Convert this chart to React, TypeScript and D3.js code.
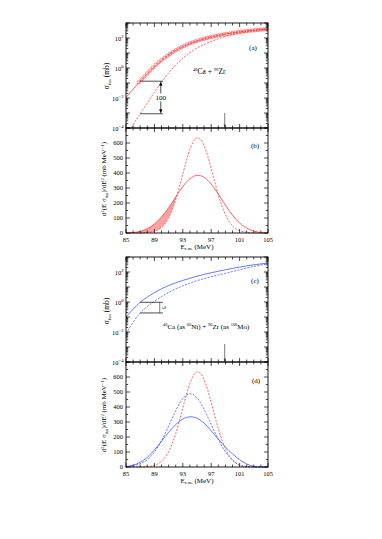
import React from 'react';
import * as d3 from 'd3';

// ---------- data ----------
const energyFine = [85, 85.5, 86, 86.5, 87, 87.5, 88, 88.5, 89, 89.5, 90, 90.5, 91, 91.5, 92, 92.5, 93, 93.5, 94, 94.5, 95, 95.5, 96, 96.5, 97, 97.5, 98, 98.5, 99, 99.5, 100, 100.5, 101, 101.5, 102, 102.5, 103, 103.5, 104, 104.5, 105];
const energyCoarse = [85, 86, 87, 88, 89, 90, 91, 92, 93, 94, 95, 96, 97, 98, 99, 100, 101, 102, 103, 104, 105];
const energyDashedA = [85.8, 86, 87, 88, 89, 90, 91, 92, 93, 94, 95, 96, 97, 98, 99, 100, 101, 102, 103, 104, 105];

// panel (a): log10 of sigma_fus (mb)
const logSigmaSolidA = [-1.96, -1.4, -0.88, -0.4, 0.08, 0.5, 0.87, 1.17, 1.42, 1.62, 1.8, 1.94, 2.06, 2.17, 2.26, 2.34, 2.41, 2.47, 2.52, 2.56, 2.6];
const logSigmaDashedA = [-4.0, -3.8, -3.05, -2.33, -1.62, -0.95, -0.33, 0.2, 0.65, 1.03, 1.33, 1.57, 1.77, 1.95, 2.1, 2.22, 2.32, 2.41, 2.48, 2.54, 2.58];
const expEnergyA = [86.8, 87.2, 87.6, 88.0, 88.4, 88.8, 89.2, 89.6, 90.0, 90.4, 90.8, 91.2, 91.6, 92.0, 92.4, 92.8, 93.2, 93.6, 94.0, 94.4, 94.8, 95.2, 95.6, 96.0, 96.4, 96.8, 97.2, 97.6, 98.0, 98.4, 98.8, 99.2, 99.6, 100.0, 100.4, 100.8, 101.2, 101.6, 102.0, 102.4, 102.8, 103.2, 103.6, 104.0, 104.4, 104.8];
const expLogSigmaA = [-0.95, -0.76, -0.56, -0.36, -0.16, 0.03, 0.22, 0.38, 0.53, 0.68, 0.81, 0.94, 1.06, 1.18, 1.28, 1.38, 1.47, 1.56, 1.64, 1.71, 1.78, 1.84, 1.9, 1.95, 2.0, 2.05, 2.09, 2.13, 2.17, 2.21, 2.24, 2.27, 2.3, 2.33, 2.36, 2.39, 2.42, 2.44, 2.46, 2.48, 2.5, 2.52, 2.54, 2.56, 2.57, 2.59];

// panel (c)
const logSigmaSolidC = [-1.0, -0.48, -0.02, 0.33, 0.63, 0.88, 1.1, 1.28, 1.44, 1.58, 1.72, 1.84, 1.95, 2.05, 2.15, 2.24, 2.33, 2.41, 2.48, 2.54, 2.6];
const logSigmaDashedC = [-2.1, -1.35, -0.73, -0.3, 0.05, 0.36, 0.64, 0.88, 1.08, 1.26, 1.42, 1.56, 1.69, 1.8, 1.91, 2.03, 2.15, 2.27, 2.37, 2.46, 2.54];

// panel (b): barrier distributions (mb/MeV)
const distSolidB = [0, 1, 3, 6, 11, 18, 28, 42, 60, 82, 107, 136, 168, 203, 240, 276, 309, 339, 362, 377, 385, 382, 371, 352, 326, 295, 260, 223, 186, 151, 119, 91, 67, 48, 33, 21, 13, 7, 3, 1, 0];
const distDashedB = [0, 0, 0, 0, 0, 1, 3, 6, 11, 21, 38, 64, 103, 156, 224, 306, 394, 481, 557, 611, 634, 624, 582, 514, 430, 341, 256, 182, 123, 78, 47, 27, 15, 8, 4, 2, 0, 0, 0, 0, 0];

// panel (d)
const distSolidD = [2, 6, 12, 20, 32, 46, 64, 88, 114, 142, 172, 202, 231, 258, 283, 303, 320, 330, 335, 333, 325, 311, 292, 268, 242, 214, 186, 159, 133, 109, 87, 67, 49, 33, 20, 10, 4, 1, 0, 0, 0];
const distDashedD = [3, 5, 8, 14, 22, 33, 49, 71, 99, 134, 175, 222, 273, 325, 375, 420, 455, 479, 488, 482, 461, 428, 385, 335, 283, 232, 184, 140, 102, 70, 45, 25, 11, 3, 0, 0, 0, 0, 0, 0, 0];

const xTickLabels = [85, 89, 93, 97, 101, 105];
const linTickLabels = [0, 100, 200, 300, 400, 500, 600];
const logTickExps = [-4, -2, 0, 2];

// ---------- layout ----------
const W = 382, H = 539;
const X0 = 126, X1 = 268;
const RED = '#ff3a3a';
const BLUE = '#3b57ff';
const FONT = '"Liberation Serif", "DejaVu Serif", Times, serif';

const x = d3.scaleLinear().domain([85, 105]).range([X0, X1]);
const yA = d3.scaleLog().domain([1e-4, 1e3]).range([128, 23]);
const yB = d3.scaleLinear().domain([0, 700]).range([233, 128]);
const yC = d3.scaleLog().domain([1e-4, 1e3]).range([362, 257]);
const yD = d3.scaleLinear().domain([0, 700]).range([467, 362]);

type P = { e: number; v: number };
const zip = (es: number[], vs: number[]): P[] => es.map((e, i) => ({ e, v: vs[i] }));

function pathLog(y: any, pts: P[]) {
  return d3.line<P>().x(p => x(p.e)).y(p => y(Math.pow(10, p.v))).curve(d3.curveMonotoneX)(pts) || '';
}
function pathLin(y: any, pts: P[]) {
  return d3.line<P>().x(p => x(p.e)).y(p => y(p.v)).curve(d3.curveMonotoneX)(pts) || '';
}

function frameAndTicks(key: string, y: any, top: number, bottom: number, isLog: boolean) {
  const els: any[] = [];
  els.push(<rect key={key + 'fr'} x={X0} y={top} width={X1 - X0} height={bottom - top} fill="none" stroke="#000" strokeWidth={0.9} />);
  x.ticks(20).forEach(e => {
    const major = (e - 85) % 4 === 0;
    const len = major ? 4 : 2.5;
    els.push(<line key={key + 'xb' + e} x1={x(e)} x2={x(e)} y1={bottom} y2={bottom - len} stroke="#000" strokeWidth={0.7} />);
    els.push(<line key={key + 'xt' + e} x1={x(e)} x2={x(e)} y1={top} y2={top + len} stroke="#000" strokeWidth={0.7} />);
  });
  const yt: number[] = isLog ? y.ticks() : y.ticks(14);
  yt.forEach((v: number) => {
    const major = isLog ? Math.abs(Math.log10(v) - Math.round(Math.log10(v))) < 1e-9 : v % 100 === 0;
    const len = major ? 4 : 2.2;
    const yy = y(v);
    els.push(<line key={key + 'yl' + v} x1={X0} x2={X0 + len} y1={yy} y2={yy} stroke="#000" strokeWidth={0.7} />);
    els.push(<line key={key + 'yr' + v} x1={X1} x2={X1 - len} y1={yy} y2={yy} stroke="#000" strokeWidth={0.7} />);
  });
  if (isLog) {
    logTickExps.forEach(ex => {
      els.push(
        <text key={key + 'lab' + ex} x={123.5} y={y(Math.pow(10, ex)) + 2.5} textAnchor="end" fontSize={6.5} fill="#000">
          10<tspan dy={-3} fontSize={4.6}>{ex < 0 ? '\u2212' + Math.abs(ex) : String(ex)}</tspan>
        </text>
      );
    });
  } else {
    linTickLabels.forEach(v => {
      els.push(<text key={key + 'lab' + v} x={123} y={y(v) + 2.2} textAnchor="end" fontSize={6.5} fill="#000">{v}</text>);
    });
  }
  return els;
}

function xLabels(key: string, bottom: number) {
  return [
    ...xTickLabels.map(e => (
      <text key={key + 'xl' + e} x={x(e)} y={bottom + 8.5} textAnchor="middle" fontSize={6.5} fill="#000">{e}</text>
    )),
    <text key={key + 'xtitle'} x={197} y={bottom + 15.5} textAnchor="middle" fontSize={7} fill="#000">
      E<tspan dy={1.5} fontSize={4.6}>c.m.</tspan><tspan dy={-1.5}> (MeV)</tspan>
    </text>,
  ];
}

function sigmaTitle(key: string, cx: number, cy: number) {
  return (
    <text key={key} transform={`translate(${cx},${cy}) rotate(-90)`} textAnchor="middle" fontSize={7.5} fill="#000">
      σ<tspan dy={1.6} fontSize={5}>fus</tspan><tspan dy={-1.6}> (mb)</tspan>
    </text>
  );
}

function distTitle(key: string, cx: number, cy: number) {
  return (
    <text key={key} transform={`translate(${cx},${cy}) rotate(-90)`} textAnchor="middle" fontSize={7} fill="#000">
      d<tspan dy={-2.5} fontSize={4.6}>2</tspan><tspan dy={2.5}>(E σ</tspan><tspan dy={1.5} fontSize={4.6}>fus</tspan><tspan dy={-1.5}>)/dE</tspan><tspan dy={-2.5} fontSize={4.6}>2</tspan><tspan dy={2.5}> (mb MeV</tspan><tspan dy={-2.5} fontSize={4.6}>−1</tspan><tspan dy={2.5}>)</tspan>
    </text>
  );
}

function vArrow(key: string, xx: number, yTop: number, yBot: number) {
  return (
    <g key={key}>
      <line x1={xx} x2={xx} y1={yTop + 3} y2={yBot - 3} stroke="#000" strokeWidth={0.7} />
      <path d={`M${xx},${yTop} L${xx - 1.6},${yTop + 4.5} L${xx + 1.6},${yTop + 4.5} Z`} fill="#000" />
      <path d={`M${xx},${yBot} L${xx - 1.6},${yBot - 4.5} L${xx + 1.6},${yBot - 4.5} Z`} fill="#000" />
    </g>
  );
}

export default function App() {
  const solidA = zip(energyCoarse, logSigmaSolidA);
  const dashedA = zip(energyDashedA, logSigmaDashedA);
  const solidC = zip(energyCoarse, logSigmaSolidC);
  const dashedC = zip(energyCoarse, logSigmaDashedC);
  const sB = zip(energyFine, distSolidB);
  const dB = zip(energyFine, distDashedB);
  const sD = zip(energyFine, distSolidD);
  const dD = zip(energyFine, distDashedD);

  // shaded region in (b): between solid and dashed below their first crossing
  const band: { e: number; lo: number; hi: number }[] = [];
  for (let i = 0; i < energyFine.length; i++) {
    const s = distSolidB[i], d = distDashedB[i];
    if (s <= 0) continue;
    if (s >= d) band.push({ e: energyFine[i], lo: d, hi: s });
    else {
      const ps = distSolidB[i - 1], pd = distDashedB[i - 1];
      const t = (ps - pd) / ((ps - pd) - (s - d));
      const e = energyFine[i - 1] + t * (energyFine[i] - energyFine[i - 1]);
      const v = ps + t * (s - ps);
      band.push({ e, lo: v, hi: v });
      break;
    }
  }
  const bandPath = d3.area<{ e: number; lo: number; hi: number }>()
    .x(p => x(p.e)).y0(p => yB(p.lo)).y1(p => yB(p.hi)).curve(d3.curveMonotoneX)(band) || '';

  // guide lines at E = 87 MeV
  const eRef = 87, eEnd = 90.2;
  const aHi = yA(Math.pow(10, logSigmaSolidA[2]));
  const aLo = yA(Math.pow(10, logSigmaDashedA[2]));
  const cHi = yC(Math.pow(10, logSigmaSolidC[2]));
  const cLo = yC(Math.pow(10, logSigmaDashedC[2]));
  const arrowAx = x(89.9);
  const arrowCx = x(89.75);
  const eMark = 98.9;

  return (
    <svg width={W} height={H} style={{ position: 'absolute', left: 0, top: 0, background: '#fff' }} fontFamily={FONT}>
      <rect x={0} y={0} width={W} height={H} fill="#fff" />

      {/* ---------- panel (a) ---------- */}
      <path d={pathLog(yA, solidA)} fill="none" stroke={RED} strokeWidth={0.8} />
      <path d={pathLog(yA, dashedA)} fill="none" stroke={RED} strokeWidth={0.8} strokeDasharray="2,1.4" />
      {expEnergyA.map((e, i) => (
        <circle key={'ca' + i} cx={x(e)} cy={yA(Math.pow(10, expLogSigmaA[i]))} r={1.7} fill="none" stroke={RED} strokeWidth={0.6} />
      ))}
      <line x1={x(eRef)} x2={x(eEnd)} y1={aHi} y2={aHi} stroke="#000" strokeWidth={0.7} />
      <line x1={x(eRef)} x2={x(eEnd)} y1={aLo} y2={aLo} stroke="#000" strokeWidth={0.7} />
      {vArrow('arrA', arrowAx, aHi, aLo)}
      <rect x={arrowAx - 6} y={(aHi + aLo) / 2 - 4} width={12} height={8} fill="#fff" />
      <text x={arrowAx} y={(aHi + aLo) / 2 + 2.5} textAnchor="middle" fontSize={7} fill="#000">100</text>
      <line x1={x(eMark)} x2={x(eMark)} y1={yA(1e-3)} y2={127} stroke="#444" strokeWidth={0.7} />
      <path d={`M${x(eMark)},128 L${x(eMark) - 1.1},124.5 L${x(eMark) + 1.1},124.5 Z`} fill="#444" />
      <text x={193} y={74} fontSize={7.5} fill="#000">
        <tspan dy={-3} fontSize={4.6}>40</tspan><tspan dy={3}>Ca + </tspan><tspan dy={-3} fontSize={4.6}>96</tspan><tspan dy={3}>Zr</tspan>
      </text>
      <text x={253} y={49.5} textAnchor="middle" fontSize={7} fill="#000">(a)</text>
      {frameAndTicks('a', yA, 23, 128, true)}
      {sigmaTitle('ta', 109, 76)}

      {/* ---------- panel (b) ---------- */}
      <path d={bandPath} fill="#ff7a7a" fillOpacity={0.7} stroke="none" />
      <path d={pathLin(yB, sB)} fill="none" stroke={RED} strokeWidth={0.8} />
      <path d={pathLin(yB, dB)} fill="none" stroke={RED} strokeWidth={0.8} strokeDasharray="2,1.4" />
      <text x={255} y={147.5} textAnchor="middle" fontSize={7} fill="#000">(b)</text>
      {frameAndTicks('b', yB, 128, 233, false)}
      {xLabels('b', 233)}
      {distTitle('tb', 106, 179)}

      {/* ---------- panel (c) ---------- */}
      <path d={pathLog(yC, solidC)} fill="none" stroke={BLUE} strokeWidth={0.8} />
      <path d={pathLog(yC, dashedC)} fill="none" stroke={BLUE} strokeWidth={0.8} strokeDasharray="2,1.4" />
      <line x1={x(eRef)} x2={x(eEnd)} y1={cHi} y2={cHi} stroke="#000" strokeWidth={0.7} />
      <line x1={x(eRef)} x2={x(eEnd)} y1={cLo} y2={cLo} stroke="#000" strokeWidth={0.7} />
      <line x1={arrowCx} x2={arrowCx} y1={cHi} y2={cLo} stroke="#000" strokeWidth={0.5} />
      <text transform={`translate(${arrowCx + 2.2},${(cHi + cLo) / 2}) rotate(90)`} textAnchor="middle" fontSize={6.5} fill="#000">5</text>
      <line x1={x(eMark)} x2={x(eMark)} y1={yC(Math.pow(10, -2.8))} y2={361} stroke="#444" strokeWidth={0.7} />
      <path d={`M${x(eMark)},362 L${x(eMark) - 1.1},358.5 L${x(eMark) + 1.1},358.5 Z`} fill="#444" />
      <text x={163} y={329} fontSize={7} fill="#000">
        <tspan dy={-3} fontSize={4.4}>40</tspan><tspan dy={3}>Ca (as </tspan><tspan dy={-3} fontSize={4.4}>60</tspan><tspan dy={3}>Ni) + </tspan><tspan dy={-3} fontSize={4.4}>96</tspan><tspan dy={3}>Zr (as </tspan><tspan dy={-3} fontSize={4.4}>100</tspan><tspan dy={3}>Mo)</tspan>
      </text>
      <text x={255} y={282.5} textAnchor="middle" fontSize={7} fill="#000">(c)</text>
      {frameAndTicks('c', yC, 257, 362, true)}
      {sigmaTitle('tc', 109, 311)}

      {/* ---------- panel (d) ---------- */}
      <path d={pathLin(yD, dB)} fill="none" stroke={RED} strokeWidth={0.8} strokeDasharray="2,1.4" />
      <path d={pathLin(yD, sD)} fill="none" stroke={BLUE} strokeWidth={0.8} />
      <path d={pathLin(yD, dD)} fill="none" stroke={BLUE} strokeWidth={0.8} strokeDasharray="2,1.4" />
      <text x={256} y={382.5} textAnchor="middle" fontSize={7} fill="#000">(d)</text>
      {frameAndTicks('d', yD, 362, 467, false)}
      {xLabels('d', 467)}
      {distTitle('td', 106, 415)}
    </svg>
  );
}
